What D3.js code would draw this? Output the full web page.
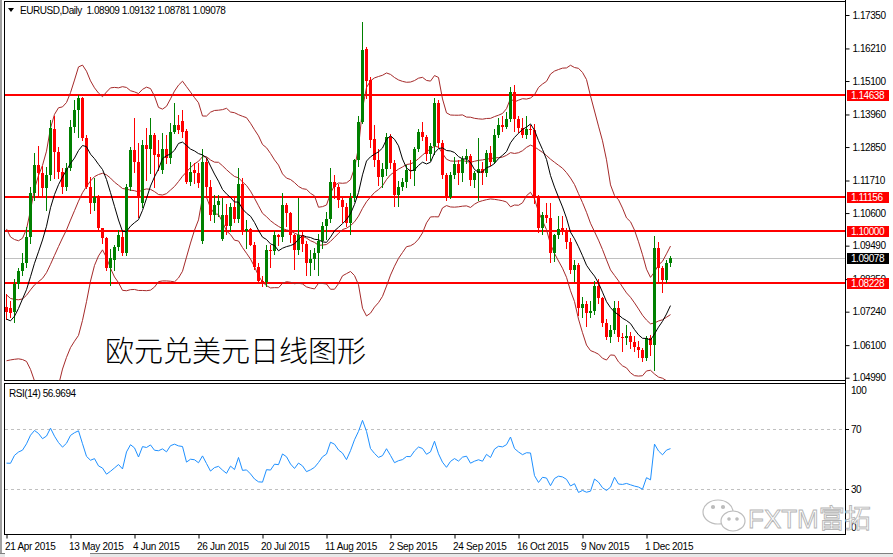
<!DOCTYPE html>
<html><head><meta charset="utf-8">
<script src="https://cdn.jsdelivr.net/npm/d3@7"></script>
<style>
body{margin:0;background:#fff;overflow:hidden}
svg{display:block}
text{font-family:"Liberation Sans",Arial,sans-serif}
</style>
</head><body>
<svg id="c" width="893" height="557"></svg>
<script>
// ---------- data ----------
const symbol = "EURUSD", timeframe = "Daily";
const tickLabels = ["21 Apr 2015","13 May 2015","4 Jun 2015","26 Jun 2015","20 Jul 2015","11 Aug 2015","2 Sep 2015","24 Sep 2015","16 Oct 2015","9 Nov 2015","1 Dec 2015"];
const tickBars = [0,16,32,48,64,80,96,112,128,144,160];
const priceTicks = [1.17350,1.16210,1.15100,1.13960,1.12850,1.11710,1.10600,1.09490,1.08350,1.07240,1.06100,1.04990];
const levels = [1.14638,1.11156,1.10000,1.08228];
const bid = 1.09078;
const rsiTicks = [100,70,30,0];
const rsiLevels = [70,30];
const rsiLabel = "RSI(14) 56.9694";
const caption = "欧元兑美元日线图形";
const watermark = "FXTM富拓";
// closes before 21 Apr 2015 (indicator warm-up)
const priorCloses = [1.0850,1.0700,1.0550,1.0630,1.0495,1.0565,1.0595,1.0845,1.0655,1.0820,
1.0940,1.0960,1.0965,1.0885,1.0890,1.0830,1.0730,1.0760,1.0885,1.0970,
1.0925,1.0800,1.0780,1.0660,1.0600,1.0565,1.0665,1.0685,1.0765,1.0805,1.0740];
const opens = [
1.0740,1.0735,1.0723,1.0819,1.0862,1.0889,1.0980,1.1127,1.1224,1.1195,
1.1144,1.1190,1.1345,1.1269,1.1201,1.1150,1.1212,1.1352,1.1411,1.1451,
1.1315,1.1150,1.1093,1.1116,1.1008,1.0974,1.0872,1.0900,1.0945,1.0980,
1.0923,1.1150,1.1275,1.1235,1.1093,1.1292,1.1280,1.1326,1.1262,1.1207,
1.1280,1.1246,1.1337,1.1360,1.1375,1.1340,1.1167,1.1207,1.1195,1.0965,
1.1235,1.1150,1.1053,1.1088,1.0970,1.1055,1.1015,1.1080,1.1040,1.1160,
1.1000,1.1005,1.0950,1.0875,1.0830,1.0825,1.0935,1.0930,1.0985,1.0980,
1.1087,1.1060,1.0985,1.0935,1.0985,1.0955,1.0890,1.0905,1.0925,1.0965,
1.1015,1.1040,1.1165,1.1150,1.1105,1.1080,1.1025,1.1110,1.1240,1.1371,
1.1618,1.1513,1.1311,1.1241,1.1184,1.1210,1.1320,1.1230,1.1122,1.1150,
1.1165,1.1207,1.1205,1.1280,1.1335,1.1320,1.1260,1.1290,1.1436,1.1300,
1.1190,1.1116,1.1190,1.1227,1.1195,1.1243,1.1255,1.1173,1.1195,1.1210,
1.1195,1.1265,1.1235,1.1326,1.1360,1.1355,1.1380,1.1473,1.1380,1.1350,
1.1326,1.1345,1.1343,1.1110,1.1008,1.1053,1.1042,1.0923,1.0985,1.1010,
1.0995,1.0963,1.0866,1.0883,1.0735,1.0750,1.0718,1.0725,1.0812,1.0769,
1.0684,1.0639,1.0662,1.0735,1.0639,1.0633,1.0640,1.0622,1.0605,1.0593,
1.0565,1.0633,1.0610,1.0940,1.0872,1.0832,1.08909];
const highs = [
1.0785,1.0760,1.0835,1.0872,1.0925,1.1012,1.1150,1.1265,1.1288,1.1222,
1.1218,1.1378,1.1390,1.1286,1.1212,1.1229,1.1377,1.1445,1.1462,1.1455,
1.1326,1.1184,1.1178,1.1122,1.1010,1.0980,1.0936,1.0951,1.1002,1.1002,
1.1160,1.1286,1.1383,1.1300,1.1310,1.1349,1.1383,1.1332,1.1309,1.1332,
1.1326,1.1366,1.1434,1.1394,1.1411,1.1345,1.1235,1.1229,1.1229,1.1278,
1.1246,1.1173,1.1120,1.1120,1.1110,1.1090,1.1095,1.1110,1.1215,1.1180,
1.1035,1.1010,1.0960,1.0890,1.0845,1.0950,1.0950,1.1000,1.0990,1.1130,
1.1095,1.1065,1.0990,1.1110,1.0995,1.0965,1.0935,1.0940,1.0990,1.1030,
1.1065,1.1215,1.1190,1.1160,1.1115,1.1095,1.1130,1.1245,1.1390,1.1712,
1.1627,1.1525,1.1360,1.1280,1.1230,1.1332,1.1330,1.1240,1.1170,1.1180,
1.1225,1.1240,1.1285,1.1345,1.1370,1.1325,1.1300,1.1451,1.1445,1.1310,
1.1195,1.1200,1.1250,1.1240,1.1255,1.1280,1.1260,1.1205,1.1317,1.1235,
1.1275,1.1290,1.1345,1.1385,1.1390,1.1405,1.1490,1.1496,1.1390,1.1385,
1.1390,1.1360,1.1365,1.1120,1.1065,1.1095,1.1095,1.0990,1.1050,1.1050,
1.1010,1.0975,1.0900,1.0890,1.0775,1.0760,1.0760,1.0830,1.0835,1.0775,
1.0700,1.0680,1.0760,1.0760,1.0650,1.0680,1.0655,1.0640,1.0625,1.0600,
1.0640,1.0645,1.0981,1.0960,1.0880,1.0900,1.09132];
const lows = [
1.0700,1.0705,1.0690,1.0805,1.0850,1.0875,1.0957,1.1104,1.1116,1.1115,
1.1070,1.1173,1.1180,1.1178,1.1127,1.1139,1.1207,1.1337,1.1320,1.1309,
1.1144,1.1059,1.1070,1.1002,1.0957,1.0866,1.0815,1.0866,1.0934,1.0917,
1.0917,1.1139,1.1200,1.1048,1.1082,1.1173,1.1195,1.1150,1.1207,1.1195,
1.1230,1.1230,1.1332,1.1332,1.1320,1.1161,1.1156,1.1161,1.1150,1.0957,
1.1116,1.1036,1.1030,1.1050,1.0968,1.0990,1.1000,1.1030,1.1030,1.0990,
1.0940,1.0950,1.0870,1.0825,1.0810,1.0810,1.0875,1.0920,1.0950,1.0965,
1.1015,1.0960,1.0870,1.0920,1.0930,1.0850,1.0850,1.0870,1.0850,1.0940,
1.0970,1.1030,1.1110,1.1080,1.1030,1.1015,1.0990,1.1100,1.1220,1.1366,
1.1451,1.1286,1.1220,1.1155,1.1150,1.1190,1.1215,1.1085,1.1085,1.1140,
1.1150,1.1180,1.1155,1.1270,1.1310,1.1240,1.1240,1.1260,1.1285,1.1180,
1.1105,1.1110,1.1180,1.1160,1.1170,1.1230,1.1155,1.1150,1.1105,1.1160,
1.1185,1.1225,1.1230,1.1320,1.1340,1.1350,1.1375,1.1340,1.1335,1.1320,
1.1315,1.1330,1.1095,1.0997,1.0990,1.1030,1.0894,1.0897,1.0975,1.0990,
1.0940,1.0855,1.0830,1.0713,1.0705,1.0675,1.0705,1.0715,1.0755,1.0675,
1.0630,1.0620,1.0650,1.0625,1.0590,1.0615,1.0600,1.0590,1.0570,1.0555,
1.0560,1.0575,1.0524,1.0830,1.0792,1.0825,1.08781];
const closes = [
1.0722,1.0720,1.0819,1.0864,1.0889,1.0980,1.1127,1.1224,1.1195,1.1144,
1.1190,1.1349,1.1269,1.1201,1.1150,1.1212,1.1355,1.1411,1.1451,1.1315,
1.1150,1.1093,1.1116,1.1008,1.0974,1.0872,1.0906,1.0945,1.0985,1.0923,
1.1150,1.1275,1.1235,1.1110,1.1292,1.1280,1.1326,1.1258,1.1252,1.1280,
1.1246,1.1337,1.1360,1.1343,1.1337,1.1167,1.1201,1.1195,1.1161,1.1235,
1.1150,1.1053,1.1088,1.1100,1.1055,1.1015,1.1080,1.1040,1.1160,1.1000,
1.1005,1.0950,1.0875,1.0830,1.0825,1.0935,1.0930,1.0985,1.0980,1.1087,
1.1060,1.0985,1.0935,1.0985,1.0955,1.0890,1.0905,1.0925,1.0965,1.1015,
1.1040,1.1165,1.1150,1.1105,1.1080,1.1025,1.1110,1.1240,1.1371,1.1616,
1.1511,1.1309,1.1241,1.1184,1.1210,1.1320,1.1230,1.1122,1.1150,1.1165,
1.1207,1.1205,1.1280,1.1335,1.1320,1.1260,1.1290,1.1436,1.1300,1.1190,
1.1116,1.1190,1.1227,1.1195,1.1243,1.1255,1.1173,1.1195,1.1210,1.1195,
1.1265,1.1235,1.1326,1.1360,1.1355,1.1380,1.1473,1.1380,1.1350,1.1326,
1.1345,1.1343,1.1110,1.1008,1.1053,1.1042,1.0923,1.0985,1.1005,1.0995,
1.0963,1.0866,1.0883,1.0735,1.0750,1.0718,1.0725,1.0812,1.0769,1.0684,
1.0639,1.0662,1.0735,1.0639,1.0633,1.0640,1.0622,1.0605,1.0593,1.0565,
1.0633,1.0610,1.0940,1.0872,1.0832,1.0889,1.09078];
const bbPeriod = 20, bbDev = 2, maPeriod = 10, rsiPeriod = 14;

// ---------- layout ----------
const N = closes.length;
const svg = d3.select("#c");
const P = {l:4.5, r:845.5, t:1.5, b:380.5};   // main panel
const R = {t:383.5, b:534.5};                 // rsi panel
const x = d3.scaleLinear().domain([0, N-1]).range([6.5, 6.5 + 4*(N-1)]);
const y = d3.scaleLinear().domain([1.04990, 1.17350]).range([377.7, 15]);
const yr = d3.scaleLinear().domain([0, 100]).range([534, 384]);
const fmt = d3.format(".5f");
const LS = "-0.45px";

svg.append("rect").attr("width",893).attr("height",557).attr("fill","#fff");

const defs = svg.append("defs");
defs.append("clipPath").attr("id","cm").append("rect").attr("x",5).attr("y",2).attr("width",840).attr("height",378);
defs.append("clipPath").attr("id","cr").append("rect").attr("x",5).attr("y",384).attr("width",840).attr("height",150);

// ---------- indicators ----------
const all = priorCloses.concat(closes);
const off = priorCloses.length;
const bands = d3.range(N).map(i => {
  const w = all.slice(off+i-bbPeriod+1, off+i+1);
  const m = d3.mean(w);
  const sd = Math.sqrt(d3.mean(w, v => (v-m)*(v-m)));
  return {i, m, up: m + bbDev*sd, lo: m - bbDev*sd};
});
const ma = d3.range(N).map(i => ({i, v: d3.mean(all.slice(off+i-maPeriod+1, off+i+1))}));
const rsiAll = [];
{
  let ag = 0, al = 0;
  for (let k = 1; k <= rsiPeriod; k++) { const d = all[k]-all[k-1]; ag += Math.max(d,0); al += Math.max(-d,0); }
  ag /= rsiPeriod; al /= rsiPeriod;
  rsiAll[rsiPeriod] = 100 - 100/(1+ag/al);
  for (let k = rsiPeriod+1; k < all.length; k++) {
    const d = all[k]-all[k-1];
    ag = (ag*(rsiPeriod-1) + Math.max(d,0))/rsiPeriod;
    al = (al*(rsiPeriod-1) + Math.max(-d,0))/rsiPeriod;
    rsiAll[k] = al === 0 ? 100 : 100 - 100/(1+ag/al);
  }
}
const rsi = d3.range(N).map(i => ({i, v: rsiAll[off+i]}));

// ---------- main panel ----------
const gm = svg.append("g").attr("clip-path","url(#cm)");
gm.append("line").attr("x1",5).attr("x2",845).attr("y1",Math.round(y(bid))+0.5).attr("y2",Math.round(y(bid))+0.5)
  .attr("stroke","#c0c0c0").attr("stroke-width",1);
gm.selectAll("line.lvl").data(levels).join("line").attr("class","lvl")
  .attr("x1",5).attr("x2",845)
  .attr("y1",d=>Math.round(y(d))).attr("y2",d=>Math.round(y(d)))
  .attr("stroke","#ff0000").attr("stroke-width",2);
const bl = k => d3.line().x(d=>x(d.i)).y(d=>y(d[k]));
["up","m","lo"].forEach(k => gm.append("path").datum(bands).attr("d",bl(k))
  .attr("fill","none").attr("stroke","#a52a2a").attr("stroke-width",1));
const cg = gm.selectAll("g.c").data(d3.range(N)).join("g").attr("class","c");
const col = i => closes[i] >= opens[i] ? "#008000" : "#ff0000";
cg.append("line")
  .attr("x1",i=>x(i)).attr("x2",i=>x(i))
  .attr("y1",i=>Math.round(y(Math.max(highs[i],opens[i],closes[i]))))
  .attr("y2",i=>Math.round(y(Math.min(lows[i],opens[i],closes[i])))+1)
  .attr("stroke",col).attr("stroke-width",1);
cg.append("rect")
  .attr("x",i=>x(i)-1.5).attr("width",3)
  .attr("y",i=>Math.round(y(Math.max(opens[i],closes[i]))))
  .attr("height",i=>Math.max(1, Math.round(y(Math.min(opens[i],closes[i]))) - Math.round(y(Math.max(opens[i],closes[i])))))
  .attr("fill",col);
gm.append("path").datum(ma).attr("d",d3.line().x(d=>x(d.i)).y(d=>y(d.v)))
  .attr("fill","none").attr("stroke","#000").attr("stroke-width",1);

// caption
svg.append("text").attr("x",105).attr("y",362).text(caption)
  .style("font-family",'"Noto Sans CJK SC",sans-serif').style("font-size","29px").style("font-weight","300").attr("fill","#000");

// header
svg.append("path").attr("d","M8,8 L14,8 L11,12 Z").attr("fill","#000");
svg.append("text").attr("x",20).attr("y",14).style("font-size","10px").style("letter-spacing",LS).attr("fill","#000")
  .attr("xml:space","preserve")
  .text(`${symbol},${timeframe}  ${fmt(opens[N-1])} ${fmt(highs[N-1])} ${fmt(lows[N-1])} ${fmt(closes[N-1])}`);

// panel frames
svg.append("rect").attr("x",P.l).attr("y",P.t).attr("width",P.r-P.l).attr("height",P.b-P.t)
  .attr("fill","none").attr("stroke","#000");
svg.append("rect").attr("x",P.l).attr("y",R.t).attr("width",P.r-P.l).attr("height",R.b-R.t)
  .attr("fill","none").attr("stroke","#000");
svg.append("line").attr("x1",1).attr("x2",1).attr("y1",0).attr("y2",553).attr("stroke","#a0a0a0").attr("stroke-width",2);

// price axis
const ax = svg.append("g").attr("transform","translate(845.5,0)")
  .call(d3.axisRight(y).tickValues(priceTicks).tickFormat(fmt).tickSize(4).tickPadding(3).tickSizeOuter(0));
ax.select(".domain").remove();
ax.selectAll("text").style("font-family",'"Liberation Sans",Arial,sans-serif').style("font-size","10px")
  .style("letter-spacing",LS).attr("fill","#000");
ax.selectAll("line").attr("stroke","#000");
svg.append("line").attr("x1",845.5).attr("x2",845.5).attr("y1",0).attr("y2",535).attr("stroke","#000");

// level label boxes
const lb = svg.selectAll("g.lb").data(levels.map(v=>({v,c:"#ff0000"})).concat([{v:bid,c:"#000"}])).join("g").attr("class","lb");
lb.append("rect").attr("x",847).attr("width",42).attr("y",d=>Math.round(y(d.v))-5).attr("height",11).attr("fill",d=>d.c);
lb.append("text").attr("x",851).attr("y",d=>Math.round(y(d.v))+4).text(d=>fmt(d.v))
  .style("font-size","10px").style("letter-spacing",LS).attr("fill","#fff");

// ---------- RSI panel ----------
const gr = svg.append("g").attr("clip-path","url(#cr)");
gr.selectAll("line.rl").data(rsiLevels).join("line").attr("class","rl")
  .attr("x1",5).attr("x2",845).attr("y1",d=>Math.round(yr(d))+0.5).attr("y2",d=>Math.round(yr(d))+0.5)
  .attr("stroke","#c0c0c0").attr("stroke-dasharray","3,3");
gr.append("path").datum(rsi.filter(d=>d.v!=null)).attr("d",d3.line().x(d=>x(d.i)).y(d=>yr(d.v)))
  .attr("fill","none").attr("stroke","#1e90ff").attr("stroke-width",1);
svg.append("text").attr("x",9).attr("y",397).text(rsiLabel).style("font-size","10px").style("letter-spacing",LS).attr("fill","#000");
svg.selectAll("text.rt").data(rsiTicks).join("text").attr("class","rt")
  .attr("x",851).attr("y",d=>Math.min(Math.max(yr(d),390),527)+4).text(d=>d)
  .style("font-size","10px").style("letter-spacing",LS).attr("fill","#000");
svg.selectAll("line.rtk").data(rsiLevels).join("line").attr("class","rtk")
  .attr("x1",845).attr("x2",849).attr("y1",d=>Math.round(yr(d))+0.5).attr("y2",d=>Math.round(yr(d))+0.5).attr("stroke","#000");

// ---------- time axis ----------
const tx = svg.append("g").attr("transform","translate(0,534.5)")
  .call(d3.axisBottom(x).tickValues(tickBars).tickFormat((d,i)=>tickLabels[i]).tickSize(4).tickSizeOuter(0));
tx.select(".domain").remove();
tx.selectAll("line").attr("stroke","#000");
tx.selectAll("text").attr("text-anchor","start").attr("dx",-2).attr("y",8)
  .style("font-family",'"Liberation Sans",Arial,sans-serif').style("font-size","10px")
  .style("letter-spacing","-0.3px").attr("fill","#000");

// bottom tabs
svg.append("line").attr("x1",0).attr("x2",893).attr("y1",553.5).attr("y2",553.5).attr("stroke","#808080");
svg.append("rect").attr("x",0).attr("y",554).attr("width",893).attr("height",3).attr("fill","#e8e8e8");
svg.append("rect").attr("x",5).attr("y",553).attr("width",85).attr("height",4).attr("fill","#fff");

// ---------- watermark ----------
const wm = svg.append("g").attr("fill","none").attr("stroke","#bdbdbd").attr("stroke-width",1.2);
wm.append("ellipse").attr("cx",718).attr("cy",512).attr("rx",15).attr("ry",12);
wm.append("ellipse").attr("cx",733).attr("cy",521).attr("rx",12).attr("ry",10).attr("fill","#fff");
wm.append("circle").attr("cx",713).attr("cy",507).attr("r",1.5).attr("fill","#bdbdbd");
wm.append("circle").attr("cx",723).attr("cy",507).attr("r",1.5).attr("fill","#bdbdbd");
wm.append("circle").attr("cx",729).attr("cy",519).attr("r",1.2).attr("fill","#bdbdbd");
wm.append("circle").attr("cx",737).attr("cy",519).attr("r",1.2).attr("fill","#bdbdbd");
svg.append("text").attr("x",748).attr("y",528).text(watermark)
  .style("font-family",'"Liberation Sans","Noto Sans CJK SC",sans-serif').style("font-size","26px")
  .attr("fill","#fff").attr("stroke","#b5b5b5").attr("stroke-width",0.9);
</script>
</body></html>
